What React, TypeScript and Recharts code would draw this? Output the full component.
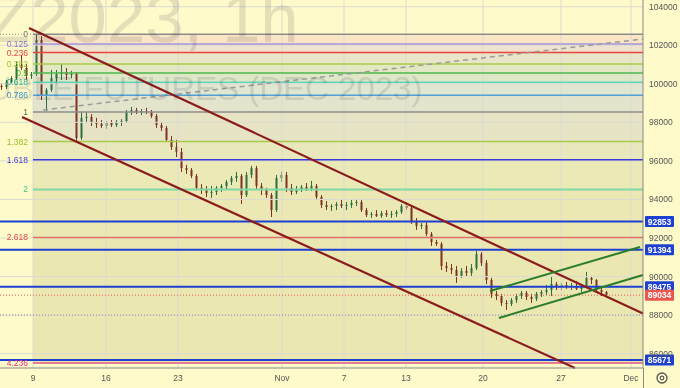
import { ComposedChart, Bar, XAxis, YAxis, ReferenceLine, ReferenceArea, ReferenceDot } from 'recharts';

// hourly candles, resampled: [open, high, low, close]
const candles: number[][] = [
  [99890, 100040, 99680, 99830], [99830, 100200, 99730, 100090], [100090, 100400, 99990, 100300],
  [100300, 101130, 100200, 100980], [100980, 101500, 100720, 100820], [100820, 101030, 100200, 100400],
  [100400, 100610, 100250, 100510], [100510, 102580, 100400, 102270], [102270, 102480, 99160, 99420],
  [99420, 99780, 98590, 99680], [99680, 100720, 99580, 100300], [100300, 100720, 99990, 100510],
  [100510, 101030, 100200, 100610], [100610, 100820, 100200, 100460], [100460, 100670, 100300, 100510],
  [100510, 100610, 96930, 97190], [97190, 98540, 97090, 98230], [98230, 98540, 98020, 98280],
  [98280, 98430, 97810, 98020], [98020, 98230, 97710, 97920], [97920, 98120, 97710, 97810],
  [97810, 98070, 97660, 97970], [97970, 98120, 97760, 97860], [97860, 98120, 97760, 98020],
  [98020, 98170, 97810, 98070], [98070, 98640, 97970, 98540], [98540, 98800, 98380, 98640],
  [98640, 98750, 98430, 98540], [98540, 98690, 98380, 98590], [98590, 98750, 98430, 98540],
  [98540, 98640, 98230, 98330], [98330, 98430, 97710, 97860], [97860, 98020, 97550, 97710],
  [97710, 97810, 96980, 97090], [97090, 97290, 96570, 96720], [96720, 97090, 96200, 96460],
  [96460, 96670, 95430, 95630], [95630, 95790, 95320, 95530], [95530, 95630, 95110, 95220],
  [95220, 95320, 94490, 94600], [94600, 94800, 94280, 94490], [94490, 94700, 94130, 94340],
  [94340, 94700, 94080, 94390], [94390, 94700, 94230, 94600], [94600, 94800, 94390, 94700],
  [94700, 95010, 94540, 94910], [94910, 95220, 94750, 95110], [95110, 95430, 94910, 95220],
  [95220, 95320, 93760, 94230], [94230, 95430, 94130, 95270], [95270, 95740, 95110, 95630],
  [95630, 95740, 94490, 94700], [94700, 94850, 94230, 94490], [94490, 94600, 94080, 94230],
  [94230, 94340, 93090, 93450], [93450, 95270, 93350, 95110], [95110, 95430, 94910, 95270],
  [95270, 95430, 94390, 94600], [94600, 94800, 94230, 94390], [94390, 94700, 94280, 94540],
  [94540, 94750, 94390, 94650], [94650, 94850, 94440, 94540], [94540, 94960, 94440, 94700],
  [94700, 94800, 93970, 94130], [94130, 94230, 93560, 93710], [93710, 93920, 93450, 93610],
  [93610, 93760, 93400, 93660], [93660, 93870, 93450, 93760], [93760, 93970, 93560, 93660],
  [93660, 93870, 93450, 93710], [93710, 93970, 93560, 93820], [93820, 93970, 93660, 93870],
  [93870, 93970, 93350, 93450], [93450, 93560, 93090, 93190], [93190, 93350, 93040, 93250],
  [93250, 93450, 93090, 93140], [93140, 93400, 93040, 93300], [93300, 93450, 93090, 93190],
  [93190, 93400, 93040, 93250], [93250, 93450, 93090, 93350], [93350, 93760, 93250, 93660],
  [93660, 93870, 93450, 93560], [93560, 93660, 92730, 92830], [92830, 93040, 92420, 92620],
  [92620, 92780, 92470, 92680], [92680, 92830, 92100, 92210], [92210, 92310, 91590, 91790],
  [91790, 91900, 91590, 91690], [91690, 91790, 90340, 90550], [90550, 90760, 90240, 90440],
  [90440, 90650, 90130, 90340], [90340, 90550, 89670, 90030], [90030, 90440, 89930, 90290],
  [90290, 90550, 90030, 90190], [90190, 90650, 90030, 90440], [90440, 91330, 90340, 91170],
  [91170, 91270, 90550, 90700], [90700, 90860, 89610, 89820], [89820, 89930, 88890, 89100],
  [89100, 89250, 88780, 88990], [88990, 89100, 88470, 88630], [88630, 88780, 88270, 88580],
  [88580, 88890, 88470, 88780], [88780, 89100, 88630, 88990], [88990, 89250, 88840, 89150],
  [89150, 89250, 88780, 88940], [88940, 89100, 88630, 88840], [88840, 89200, 88730, 89100],
  [89100, 89300, 88940, 89200], [89200, 89560, 89040, 89300], [89300, 90030, 88990, 89610],
  [89610, 89720, 89300, 89460], [89460, 89670, 89300, 89560], [89560, 89720, 89360, 89460],
  [89460, 89670, 89300, 89510], [89510, 89770, 89300, 89360], [89360, 89610, 89200, 89510],
  [89510, 90240, 89410, 89930], [89930, 90030, 89610, 89820], [89820, 89870, 89150, 89300],
  [89300, 89460, 88990, 89200], [89200, 89250, 88940, 89034],
];

// session starts in bar units
const dateTicks = [6.2, 20.8, 35.2, 56, 68.4, 80.8, 96.2, 111.8, 125.8];
const dateLabels = ['9', '16', '23', 'Nov', '7', '13', '20', '27', 'Dec'];
const priceTicks = [86000, 88000, 90000, 92000, 94000, 96000, 98000, 100000, 102000, 104000];

const fibHigh = 102568;
const fibLow = 98542;
const fibLevels = [0, 0.125, 0.236, 0.382, 0.5, 0.618, 0.786, 1, 1.382, 1.618, 2, 2.618, 4.236];
const fibLabels = ['0', '0.125', '0.236', '0.382', '0.5', '0.618', '0.786', '1', '1.382', '1.618', '2', '2.618', '4.236'];
const fibLineColors = ['#8c8c8c', '#a394dc', '#e8463c', '#a8cc48', '#4cb84c', '#5fd8b8', '#4ea2d6', '#8c8c8c', '#a8c848', '#3a3ad6', '#80d8a4', '#e07068', '#e05a82'];
const fibTextColors = ['#777777', '#8a78d0', '#e04848', '#9cc43a', '#2eb02e', '#22b89a', '#3a96d4', '#666666', '#9cbd2a', '#4040d0', '#3cc48c', '#e04848', '#e0307a'];
const fibFills = ['#fae6c4', '#efe3cf', '#e8e5c8', '#e2e8c2', '#dfe7c6', '#e0e6d0', '#e4e4cc', '#e6e4c4', '#e9e8bd', '#ebe9b6', '#ebe8b3', '#ebe7b1'];

const keyLevels = [92853, 91394, 89475, 85671];
const lastPrice = 89034;
const supportDots = 88000;

// drawings: [barIndex, price] pairs
const upperChannel = [[5.4, 102895], [128.2, 88080]];
const lowerChannel = [[4, 98278], [114.6, 85256]];
const fanDashed = [[8.2, 98641], [128.2, 102325]];
const greenUpper = [[97.6, 89251], [127.6, 91534]];
const greenLower = [[99.4, 87850], [128.2, 90081]];

const X_MIN = -0.4;
const X_MAX = 128.2;
const Y_MIN = 85256;
const Y_MAX = 104348;

const UP = '#2f6e43';
const DOWN = '#7c3324';
const BLUE = '#1c41d2';
const DARK_RED = '#8c1c1c';
const GREEN = '#2a7d2a';
const FONT = '"Liberation Sans", Arial, sans-serif';

const data = candles.map(([o, h, l, c], i) => ({ i, o, h, l, c, range: [l, h] }));
const fibPrice = (lv: number) => fibHigh - lv * (fibHigh - fibLow);
const fibStart = dateTicks[0];

function Candle(props: any) {
  const { x, y, width, height, payload } = props;
  const { o, h, l, c } = payload;
  const top = Math.min(y, y + height);
  const span = Math.abs(height);
  const py = (v: number) => (h === l ? top : top + ((h - v) / (h - l)) * span);
  const color = c >= o ? UP : DOWN;
  const cx = x + width / 2;
  const bodyTop = py(Math.max(o, c));
  const bodyH = Math.max(1, py(Math.min(o, c)) - bodyTop);
  return (
    <g>
      <line x1={cx} x2={cx} y1={top} y2={top + span} stroke={color} strokeWidth={1} />
      <rect x={x} y={bodyTop} width={width} height={bodyH} fill={color} />
    </g>
  );
}

function priceTag(bg: string, text: string) {
  return (p: any) => (
    <g>
      <rect x={p.cx + 2} y={p.cy - 5.5} width={29} height={11} rx={1} fill={bg} />
      <text x={p.cx + 16.5} y={p.cy} dy="0.35em" textAnchor="middle" fill="#fff" fontSize={8.5} fontWeight="bold" fontFamily={FONT}>
        {text}
      </text>
    </g>
  );
}

function seg(pts: number[][]) {
  return [{ x: pts[0][0], y: pts[0][1] }, { x: pts[1][0], y: pts[1][1] }];
}

export default function App() {
  return (
    <div style={{ position: 'relative', width: 680, height: 388, background: '#fefac9', fontFamily: FONT }}>
      <style>{'body{margin:0}'}</style>
      <ComposedChart width={680} height={388} data={data} margin={{ top: 0, right: 0, bottom: 0, left: 0 }}>
        <XAxis
          type="number"
          dataKey="i"
          domain={[X_MIN, X_MAX]}
          allowDataOverflow
          ticks={dateTicks}
          tickFormatter={(v: number) => dateLabels[dateTicks.indexOf(v)] ?? ''}
          height={20}
          tickLine={false}
          tickSize={4}
          tickMargin={3}
          axisLine={{ stroke: '#8a8a8a' }}
          tick={{ fill: '#555', fontSize: 8.5, fontFamily: FONT }}
          interval={0}
        />
        <YAxis
          orientation="right"
          type="number"
          domain={[Y_MIN, Y_MAX]}
          allowDataOverflow
          ticks={priceTicks}
          width={37}
          tickLine={false}
          tickSize={4}
          tickMargin={2}
          axisLine={{ stroke: '#8a8a8a' }}
          tick={{ fill: '#555', fontSize: 8.5, fontFamily: FONT, textAnchor: 'start' }}
          interval={0}
        />

        {fibFills.map((f, k) => (
          <ReferenceArea
            key={'band' + k}
            x1={fibStart}
            x2={X_MAX}
            y1={fibPrice(fibLevels[k])}
            y2={fibPrice(fibLevels[k + 1])}
            fill={f}
            fillOpacity={1}
            stroke="none"
          />
        ))}

        {priceTicks.map((p) => (
          <ReferenceLine key={'gy' + p} y={p} stroke="#dcdbd2" strokeWidth={1} />
        ))}
        {dateTicks.map((t) => (
          <ReferenceLine key={'gx' + t} x={t} stroke="#dcdbd2" strokeWidth={1} />
        ))}

        <ReferenceLine
          segment={[{ x: X_MIN, y: fibHigh }, { x: fibStart, y: fibHigh }]}
          stroke="#8c8c8c"
          strokeDasharray="1 2"
        />
        {fibLevels.map((lv, k) => (
          <ReferenceLine
            key={'fib' + k}
            segment={[{ x: fibStart, y: fibPrice(lv) }, { x: X_MAX, y: fibPrice(lv) }]}
            stroke={fibLineColors[k]}
            strokeWidth={lv === 2 ? 2.2 : 1.5}
          />
        ))}
        {fibLevels.map((lv, k) => (
          <ReferenceDot
            key={'fl' + k}
            x={fibStart}
            y={fibPrice(lv)}
            r={0}
            ifOverflow="visible"
            shape={(p: any) => (
              <text x={p.cx - 5} y={p.cy} dy="0.35em" textAnchor="end" fill={fibTextColors[k]} fontSize={8.5} fontFamily={FONT}>
                {fibLabels[k]}
              </text>
            )}
          />
        ))}

        {keyLevels.map((p) => (
          <ReferenceLine key={'kl' + p} y={p} stroke={BLUE} strokeWidth={2} />
        ))}
        <ReferenceLine y={supportDots} stroke="#8a8a8a" strokeDasharray="1 2" />
        <ReferenceLine y={lastPrice} stroke="#e9574d" strokeDasharray="1 2" />

        <ReferenceLine segment={seg(fanDashed)} stroke="#9a9a9a" strokeWidth={1.5} strokeDasharray="5 4" />
        <ReferenceLine segment={seg(upperChannel)} stroke={DARK_RED} strokeWidth={2.2} />
        <ReferenceLine segment={seg(lowerChannel)} stroke={DARK_RED} strokeWidth={2.2} />

        <Bar dataKey="range" shape={Candle} barSize={2} isAnimationActive={false} />

        <ReferenceLine segment={seg(greenUpper)} stroke={GREEN} strokeWidth={2} />
        <ReferenceLine segment={seg(greenLower)} stroke={GREEN} strokeWidth={2} />

        {keyLevels.map((p) => (
          <ReferenceDot key={'tag' + p} x={X_MAX} y={p} r={0} ifOverflow="visible" shape={priceTag(BLUE, String(p))} />
        ))}
        <ReferenceDot x={X_MAX} y={lastPrice} r={0} ifOverflow="visible" shape={priceTag('#e9574d', String(lastPrice))} />
      </ComposedChart>

      {/* watermark, multiplied so it tints the panes but not the candles */}
      <svg width={643} height={368} style={{ position: 'absolute', left: 0, top: 0, pointerEvents: 'none', mixBlendMode: 'multiply' }}>
        <g fill="#e5e4ea" fontFamily={FONT}>
          <text x={-12} y={42} fontSize={69}>Z2023, 1h</text>
          <text x={-36} y={100} fontSize={33}>RUBLE FUTURES (DEC 2023)</text>
        </g>
      </svg>

      <svg width={680} height={388} style={{ position: 'absolute', left: 0, top: 0, pointerEvents: 'none' }}>
        <line x1={643.5} x2={643.5} y1={368} y2={388} stroke="#8a8a8a" />
        <circle cx={662} cy={378} r={5} fill="none" stroke="#555" strokeWidth={1.3} />
        <circle cx={662} cy={378} r={1.8} fill="none" stroke="#555" strokeWidth={1.2} />
      </svg>
    </div>
  );
}
